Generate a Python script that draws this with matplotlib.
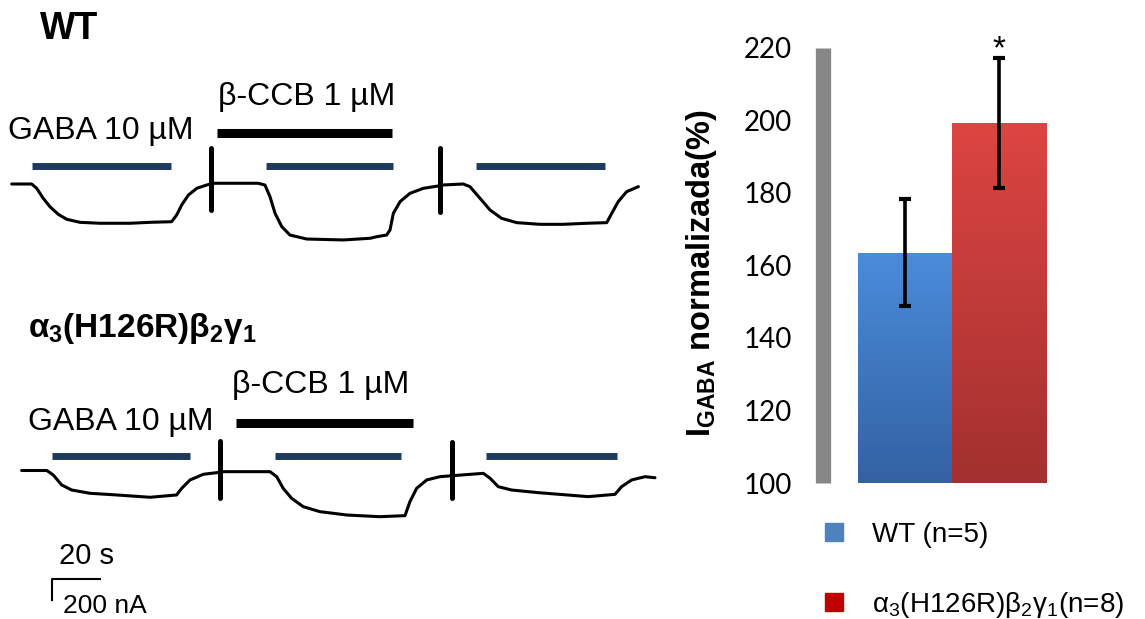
import matplotlib
matplotlib.use('Agg')
import matplotlib.pyplot as plt
import numpy as np
from matplotlib.colors import LinearSegmentedColormap
from matplotlib.lines import Line2D

plt.rcParams['font.family'] = ['Liberation Sans', 'DejaVu Sans']
plt.rcParams['mathtext.default'] = 'regular'

# --- registros (tiempo en s, corriente en nA, relativa a la línea base) ---
wt_t = [4.9, 13.2, 15.3, 18.0, 20.8, 24.3, 27.8, 33.3, 41.7, 54.2, 62.5, 71.5, 73.6, 75.7,
        78.5, 82.0, 86.1, 88.9, 107.6, 110.4, 112.5, 114.6, 117.4, 120.8, 127.8, 143.0,
        154.2, 157.0, 161.1, 162.5, 163.9, 166.7, 170.8, 176.4, 182.6, 184.0, 193.0,
        195.8, 200.0, 204.2, 209.0, 215.3, 225.0, 234.7, 244.5, 252.8, 254.9, 257.6,
        261.1, 266.0]
wt_i = [0, 0, -41, -136, -216, -289, -336, -365, -374, -374, -365, -359, -295, -200,
        -105, -41, -10, 7, 7, -10, -121, -279, -406, -486, -524, -533,
        -517, -502, -486, -438, -279, -168, -89, -41, -19, -10, 0,
        -25, -136, -248, -327, -368, -384, -384, -374, -368, -279, -168,
        -73, -25]

mut_t = [9.0, 19.5, 22.2, 25.7, 29.9, 37.5, 48.6, 62.5, 73.6, 75.7, 79.2, 84.7, 91.7,
         93.0, 112.5, 115.3, 118.0, 121.5, 126.4, 133.3, 144.5, 158.3, 168.75, 170.8,
         173.6, 177.8, 183.3, 188.2, 201.4, 204.2, 207.6, 213.2, 224.3, 245.1, 256.25,
         259.0, 263.2, 268.75, 272.9]
mut_i = [0, 0, -43, -138, -186, -217, -233, -255, -233, -170, -90, -36, -17,
         -11, -11, -59, -170, -265, -345, -392, -424, -440, -430, -297,
         -170, -90, -59, -50, -27, -74, -154, -186, -211, -249, -227,
         -154, -90, -59, -69]

# aplicaciones (s)
wt_gaba = [(13.5, 71.25), (110.8, 163.75), (198.3, 251.9)]
wt_ccb = (90.4, 163.3)
wt_breaks = [88.0, 183.3]
mut_gaba = [(21.5, 79.2), (114.5, 167.2), (202.5, 257.0)]
mut_ccb = (98.3, 172.0)
mut_breaks = [91.7, 188.2]

# --- barras ---
groups = ['WT (n=5)', 'α$_3$(H126R)β$_2$γ$_1$(n=8)']
means = [163.5, 199.2]
sems = [14.7, 18.0]
legend_colors = ['#4f81bd', '#c00000']
grad_colors = [('#3461a3', '#4a8cdb'), ('#a33030', '#dc4542')]

W, H = 1145, 619
fig = plt.figure(figsize=(W / 100, H / 100), dpi=100)

PX_S = 2.4          # px por segundo
NA_PX = 200 / 21    # nA por px


def trace_axes(top_px, bot_px, base_px):
    ax = fig.add_axes([0, 1 - bot_px / H, 660 / W, (bot_px - top_px) / H])
    ax.set_xlim(0, 660 / PX_S)
    ax.set_ylim(-(bot_px - base_px) * NA_PX, (base_px - top_px) * NA_PX)
    ax.axis('off')
    return ax


navy = '#1f3a5f'

ax1 = trace_axes(40, 300, 184)
ax1.plot(wt_t, wt_i, color='black', lw=2.2, solid_joinstyle='round', solid_capstyle='round')
for a, b in wt_gaba:
    ax1.plot([a, b], [171, 171], color=navy, lw=5, solid_capstyle='butt')
ax1.plot(wt_ccb, [490, 490], color='black', lw=6.5, solid_capstyle='butt')
for t, lo, hi in zip(wt_breaks, [-248, -267], [343, 343]):
    ax1.plot([t, t], [lo, hi], color='black', lw=3.6, solid_capstyle='round')
ax1.text(3.3, 505, 'GABA 10 µM', fontsize=23, ha='left', va='center')
ax1.text(90.8, 829, 'β-CCB 1 µM', fontsize=23, ha='left', va='center')

ax2 = trace_axes(300, 619, 470.5)
ax2.plot(mut_t, mut_i, color='black', lw=2.2, solid_joinstyle='round', solid_capstyle='round')
for a, b in mut_gaba:
    ax2.plot([a, b], [138, 138], color=navy, lw=5, solid_capstyle='butt')
ax2.plot(mut_ccb, [452, 452], color='black', lw=6.5, solid_capstyle='butt')
for t, lo, hi in zip(mut_breaks, [-262, -262], [281, 271]):
    ax2.plot([t, t], [lo, hi], color='black', lw=3.6, solid_capstyle='round')
ax2.text(11.7, 462, 'GABA 10 µM', fontsize=23, ha='left', va='center')
ax2.text(96.7, 814, 'β-CCB 1 µM', fontsize=23, ha='left', va='center')
# barra de escala 20 s / 200 nA
ax2.plot([41.7, 21.7, 21.7], [-1033, -1033, -1233], color='black', lw=1.5)
ax2.text(24.6, -814, '20 s', fontsize=21, ha='left', va='center')
ax2.text(26.25, -1295, '200 nA', fontsize=19, ha='left', va='center')

fig.text(40 / W, 1 - 29 / H, 'WT', fontsize=27, fontweight='bold', ha='left', va='center')
fig.text(28 / W, 1 - 329 / H, 'α$_3$(H126R)β$_2$γ$_1$', fontsize=24, fontweight='bold',
         ha='left', va='center')

# --- gráfico de barras ---
axb = fig.add_axes([822.5 / W, 1 - 483 / H, (1100 - 822.5) / W, (483 - 47.7) / H])
x = np.arange(len(means))
bars = axb.bar(x, np.array(means) - 100, bottom=100, width=1.0, color='none', edgecolor='none', zorder=2)
for bar, (c_bot, c_top) in zip(bars, grad_colors):
    x0, y0 = bar.get_xy()
    cmap = LinearSegmentedColormap.from_list('g', [c_bot, c_top])
    grad = np.linspace(0, 1, 256).reshape(-1, 1)
    im = axb.imshow(grad, cmap=cmap, origin='lower', aspect='auto', zorder=2,
                    extent=[x0, x0 + bar.get_width(), y0, y0 + bar.get_height()])
    im.set_clip_path(bar)
axb.errorbar(x, means, yerr=sems, fmt='none', ecolor='black', elinewidth=2.6,
             capsize=4, capthick=3, zorder=3)
axb.text(x[1], means[1] + sems[1], '*', fontsize=24, ha='center', va='baseline', clip_on=False)

axb.set_xlim(-0.878, 2.074)
axb.set_ylim(100, 220)
axb.set_yticks(np.arange(100, 221, 20))
axb.set_xticks([])
for s in ['top', 'right', 'bottom']:
    axb.spines[s].set_visible(False)
axb.spines['left'].set_color('#878787')
axb.spines['left'].set_linewidth(11)
axb.spines['left'].set_capstyle('butt')
axb.tick_params(axis='y', length=0, pad=22, labelsize=20)
for lab in axb.get_yticklabels():
    lab.set_fontfamily('Lato')
axb.set_ylabel('I$_{GABA}$ normalizada(%)', fontsize=23.5, fontweight='bold')
axb.yaxis.set_label_coords(-0.373, 0.482)

handles = [Line2D([], [], ls='', marker='s', markersize=13, color=c) for c in legend_colors]
fig.legend(handles, groups, loc='upper left', bbox_to_anchor=(819 / W, 1 - 522 / H),
           frameon=False, fontsize=20, handlelength=1.05, handletextpad=0.85,
           labelspacing=1.5, borderpad=0, borderaxespad=0)

fig.savefig('out.png', dpi=100)
